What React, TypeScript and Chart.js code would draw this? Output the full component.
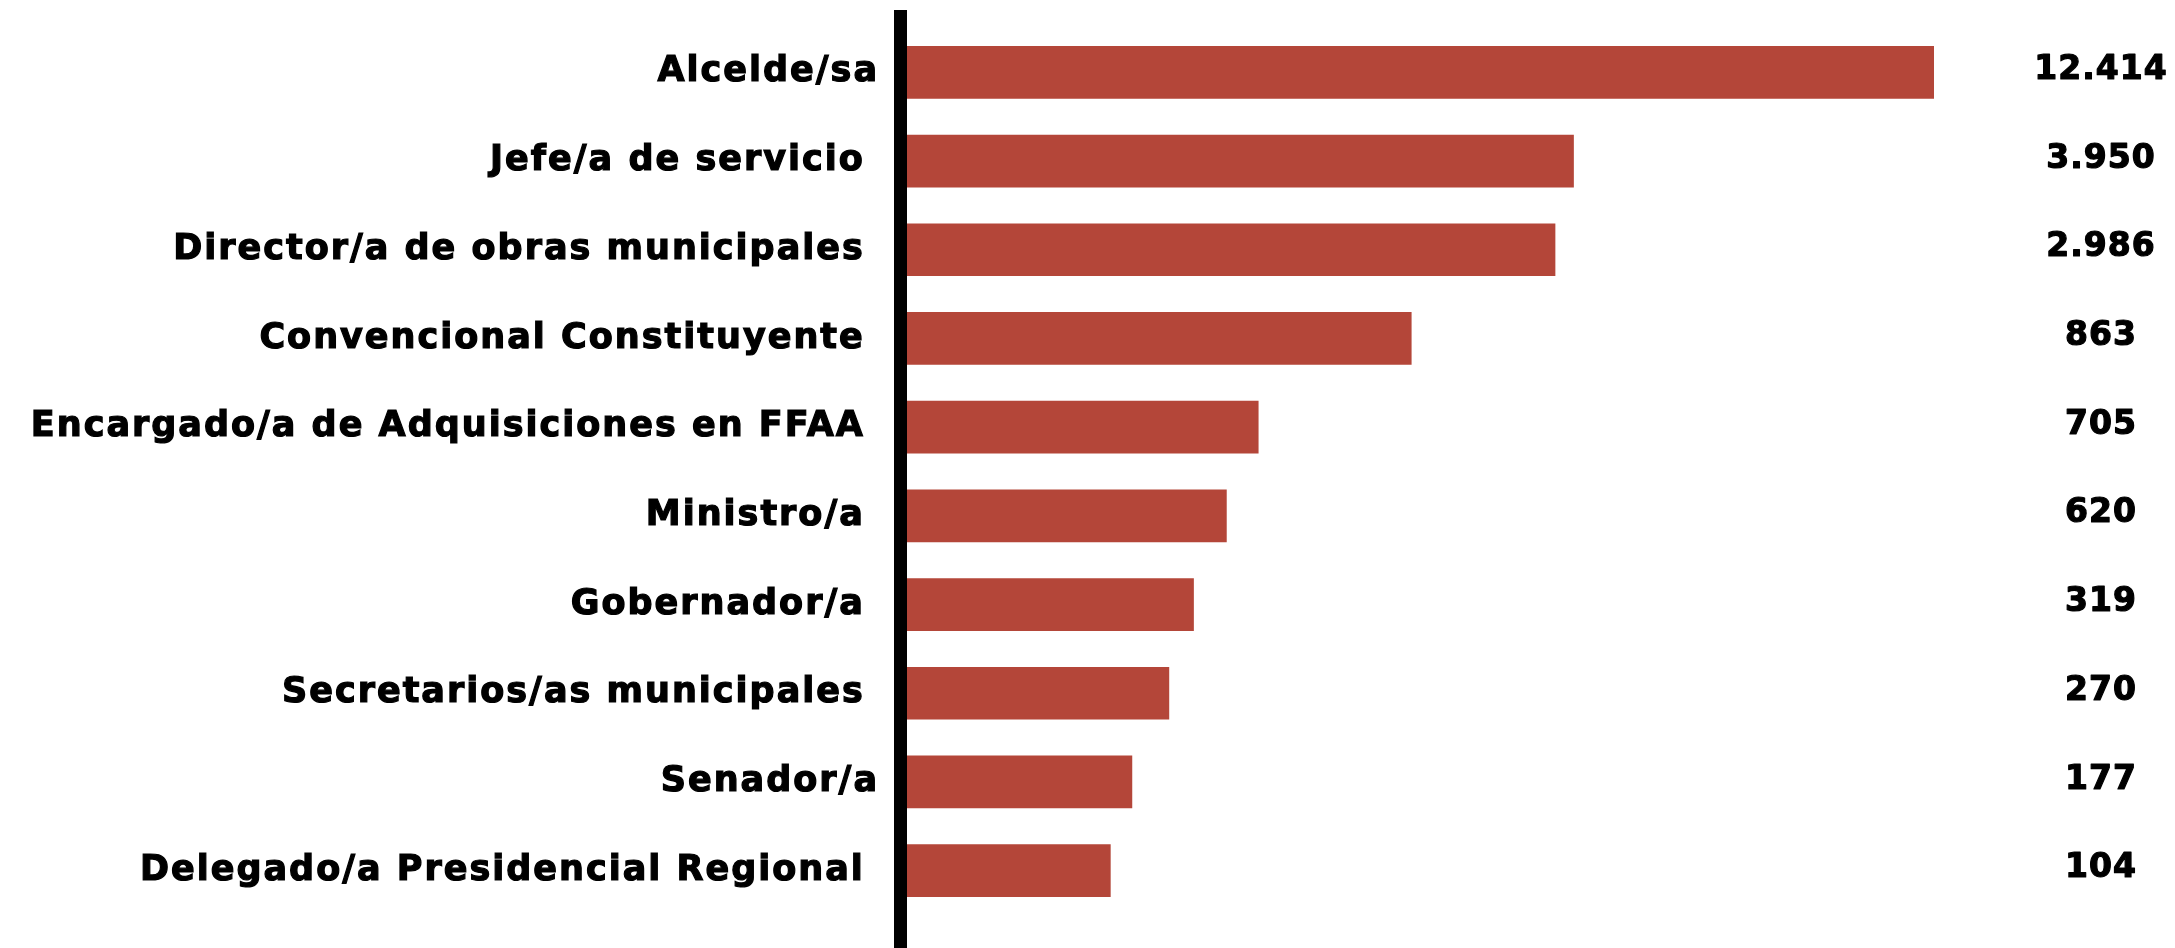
import React, { useEffect, useRef } from "react";
import { Chart, registerables } from "chart.js";

Chart.register(...registerables);

const categories = [
  "Alcelde/sa",
  "Jefe/a de servicio ",
  "Director/a de obras municipales ",
  "Convencional Constituyente ",
  "Encargado/a de Adquisiciones en FFAA ",
  "Ministro/a ",
  "Gobernador/a ",
  "Secretarios/as municipales ",
  "Senador/a",
  "Delegado/a Presidencial Regional ",
];
// Displayed counts (right column)
const valueLabels = ["12.414", "3.950", "2.986", "863", "705", "620", "319", "270", "177", "104"];
// Visual bar lengths as drawn in the picture (relative, Alcelde/sa = 100)
const barLengths = [100, 64.9, 63.1, 49.1, 34.2, 31.1, 27.9, 25.5, 21.9, 19.8];

const FONT = "'DejaVu Sans', sans-serif";

export default function App() {
  const ref = useRef<HTMLCanvasElement | null>(null);
  useEffect(() => {
    if (!ref.current) return;
    const spacingPlugin = {
      id: "spacing",
      beforeDraw(chart: any) {
        chart.ctx.letterSpacing = "2px";
      },
    };
    const extras = {
      id: "extras",
      afterDraw(chart: any) {
        const ctx = chart.ctx;
        const area = chart.chartArea;
        ctx.save();
        ctx.letterSpacing = "1px";
        ctx.fillStyle = "#000";
        ctx.fillRect(area.left - 13, 10, 13, chart.height - 10);
        const meta = chart.getDatasetMeta(0);
        ctx.font = `bold 33px ${FONT}`;
        ctx.textAlign = "center";
        ctx.textBaseline = "middle";
        ctx.strokeStyle = "#000";
        ctx.lineWidth = 1.2;
        ctx.lineJoin = "round";
        meta.data.forEach((el: any, i: number) => {
          ctx.fillText(valueLabels[i], area.right + 167, el.y - 2);
          ctx.strokeText(valueLabels[i], area.right + 167, el.y - 2);
        });
        ctx.restore();
      },
    };
    const chart = new Chart(ref.current, {
      type: "bar",
      data: {
        labels: categories,
        datasets: [
          {
            data: barLengths,
            backgroundColor: "#b44639",
            borderWidth: 0,
            barThickness: 52,
          },
        ],
      },
      options: {
        indexAxis: "y",
        animation: false,
        responsive: false,
        devicePixelRatio: 1,
        layout: { padding: { top: 28, bottom: 33, right: 241, left: 0 } },
        plugins: { legend: { display: false }, tooltip: { enabled: false } },
        scales: {
          x: { type: "linear", min: 0, max: 100, display: false },
          y: {
            type: "category",
            grid: { display: false, drawTicks: false },
            border: { display: false },
            ticks: {
              color: "#000",
              padding: 28,
              textStrokeColor: "#000",
              textStrokeWidth: 1.2,
              font: { family: FONT, weight: "bold", size: 35 },
            },
            afterFit(scale: any) {
              scale.width = 907;
              scale.paddingTop = 0;
              scale.paddingBottom = 0;
            },
          },
        },
      },
      plugins: [spacingPlugin, extras],
    });
    return () => chart.destroy();
  }, []);
  return (
    <div style={{ position: "fixed", left: 0, top: 0, width: 2175, height: 948, background: "#fff" }}>
      <canvas ref={ref} width={2175} height={948} />
    </div>
  );
}
